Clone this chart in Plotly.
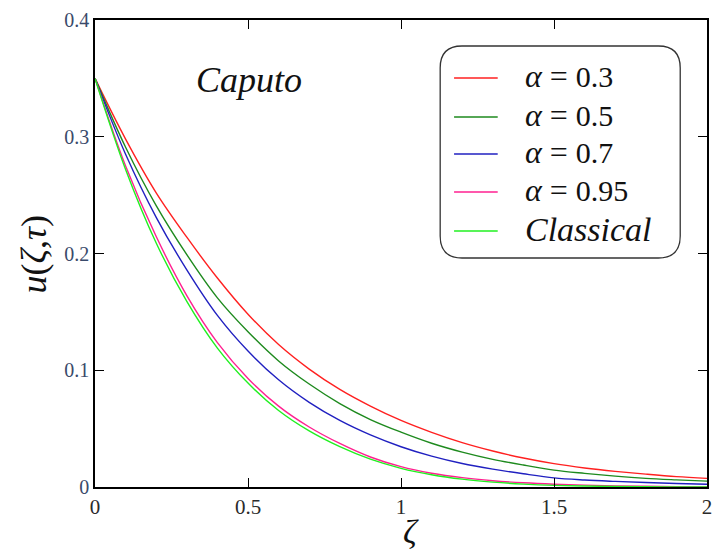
import plotly.graph_objects as go

x = [0.0, 0.1, 0.2, 0.3, 0.4, 0.5, 0.6, 0.7, 0.8, 0.9, 1.0,
     1.1, 1.2, 1.3, 1.4, 1.5, 1.6, 1.7, 1.8, 1.9, 2.0]

u_a03 = [0.350, 0.298, 0.252, 0.214, 0.179, 0.148, 0.122, 0.101, 0.0836, 0.0693, 0.057,
         0.0468, 0.038, 0.0308, 0.0248, 0.020, 0.0163, 0.0134, 0.011, 0.0089, 0.0074]
u_a05 = [0.350, 0.291, 0.241, 0.199, 0.162, 0.133, 0.108, 0.0882, 0.0715, 0.0578, 0.047,
         0.0375, 0.0299, 0.0237, 0.0188, 0.0145, 0.0117, 0.0093, 0.0074, 0.0061, 0.005]
u_a07 = [0.350, 0.285, 0.231, 0.186, 0.147, 0.1165, 0.0918, 0.0725, 0.057, 0.0446, 0.0345,
         0.0264, 0.0201, 0.0153, 0.0113, 0.0078, 0.006, 0.0048, 0.0038, 0.003, 0.0023]
u_a095 = [0.350, 0.275, 0.2145, 0.164, 0.1237, 0.093, 0.0693, 0.0514, 0.0373, 0.0257, 0.0174,
          0.0118, 0.008, 0.0054, 0.0036, 0.0024, 0.0016, 0.001, 0.0006, 0.0003, 0.0001]
u_classical = [0.350, 0.272, 0.209, 0.159, 0.119, 0.089, 0.0655, 0.048, 0.0345, 0.0238, 0.016,
               0.0105, 0.0067, 0.0042, 0.0025, 0.0014, 0.0008, 0.0004, 0.0002, 0.0001, 0.0]

series_labels = ["α = 0.3", "α = 0.5", "α = 0.7", "α = 0.95", "Classical"]
series_values = [u_a03, u_a05, u_a07, u_a095, u_classical]
series_colors = ["#ff2020", "#1e8a1e", "#2020c0", "#ff2090", "#20f020"]

x_ticks = [0, 0.5, 1, 1.5, 2]
x_tick_text = ["0", "0.5", "1", "1.5", "2"]
y_ticks = [0, 0.1, 0.2, 0.3, 0.4]
y_tick_text = ["0", "0.1", "0.2", "0.3", "0.4"]

SERIF = "Liberation Serif"

# plot area in pixels
L, R, T, B = 95, 712, 20, 487
W, H = 715, 552
def px(xp):
    return (xp - L) / (R - L)
def py(yp):
    return (B - yp) / (B - T)

fig = go.Figure()
for name, vals, col in zip(series_labels, series_values, series_colors):
    fig.add_trace(go.Scatter(x=x, y=vals, mode="lines", name=name, showlegend=False,
                             line=dict(color=col, width=1.4, shape="spline")))

fig.update_layout(
    width=W, height=H,
    margin=dict(l=L, r=W - R, t=T, b=H - B),
    paper_bgcolor="white", plot_bgcolor="white",
    font=dict(family=SERIF, color="#222"),
    showlegend=False,
    xaxis=dict(range=[0, 2], tickvals=x_ticks, ticktext=x_tick_text,
               showgrid=False, zeroline=False, showline=True, linecolor="black",
               linewidth=1.5, mirror="ticks", ticks="inside", ticklen=9,
               tickcolor="black", tickwidth=1.3, ticklabeloverflow="allow",
               tickfont=dict(family=SERIF, size=21, color="#2a2a2a")),
    yaxis=dict(range=[0, 0.4], tickvals=y_ticks, ticktext=y_tick_text,
               showgrid=False, zeroline=False, showline=True, linecolor="black",
               linewidth=1.5, mirror="ticks", ticks="inside", ticklen=9,
               tickcolor="black", tickwidth=1.3, ticklabeloverflow="allow",
               tickfont=dict(family=SERIF, size=20, color="#3a4a6a")),
)

# axis titles
fig.add_annotation(x=px(34), y=py(254), xref="paper", yref="paper",
                   xanchor="center", yanchor="middle",
                   text="<i>u</i>(<i>ζ</i>,<i>τ</i>)", textangle=-90, showarrow=False,
                   font=dict(family=SERIF, size=36, color="#111"))
fig.add_annotation(x=px(414), y=py(531), xref="paper", yref="paper",
                   xanchor="center", yanchor="middle",
                   text="<i>ζ</i>", showarrow=False,
                   font=dict(family=SERIF, size=34, color="#111"))

fig.add_annotation(x=px(250), y=py(80), xref="paper", yref="paper",
                   xanchor="center", yanchor="middle", text="<i>Caputo</i>",
                   showarrow=False, font=dict(family=SERIF, size=36, color="#111"))

# legend: rounded frame, line samples and labels
x0, x1, y0, y1, r = 443, 685, 46, 258, 22
path = (f"M {px(x0 + r)},{py(y0)} L {px(x1 - r)},{py(y0)} "
        f"Q {px(x1)},{py(y0)} {px(x1)},{py(y0 + r)} "
        f"L {px(x1)},{py(y1 - r)} Q {px(x1)},{py(y1)} {px(x1 - r)},{py(y1)} "
        f"L {px(x0 + r)},{py(y1)} Q {px(x0)},{py(y1)} {px(x0)},{py(y1 - r)} "
        f"L {px(x0)},{py(y0 + r)} Q {px(x0)},{py(y0)} {px(x0 + r)},{py(y0)} Z")
fig.add_shape(type="path", path=path, xref="paper", yref="paper",
              line=dict(color="#333", width=1.3), fillcolor="rgba(0,0,0,0)")

row_y = [78, 117, 154, 192, 231]
for lab, col, ry in zip(series_labels, series_colors, row_y):
    fig.add_shape(type="line", xref="paper", yref="paper",
                  x0=px(457), x1=px(501), y0=py(ry), y1=py(ry),
                  line=dict(color=col, width=1.5))
    if lab.startswith("α"):
        txt = ("<span style='font-size:32px'><i>α</i>\u00a0=\u00a0</span>"
               + lab.split("= ")[1])
        size = 30
    else:
        txt = "<i>" + lab + "</i>"
        size = 34
    fig.add_annotation(x=px(526), y=py(ry - 2), xref="paper", yref="paper", text=txt,
                       xanchor="left", yanchor="middle", showarrow=False,
                       font=dict(family=SERIF, size=size, color="#111"))

fig.write_html("out.html")
